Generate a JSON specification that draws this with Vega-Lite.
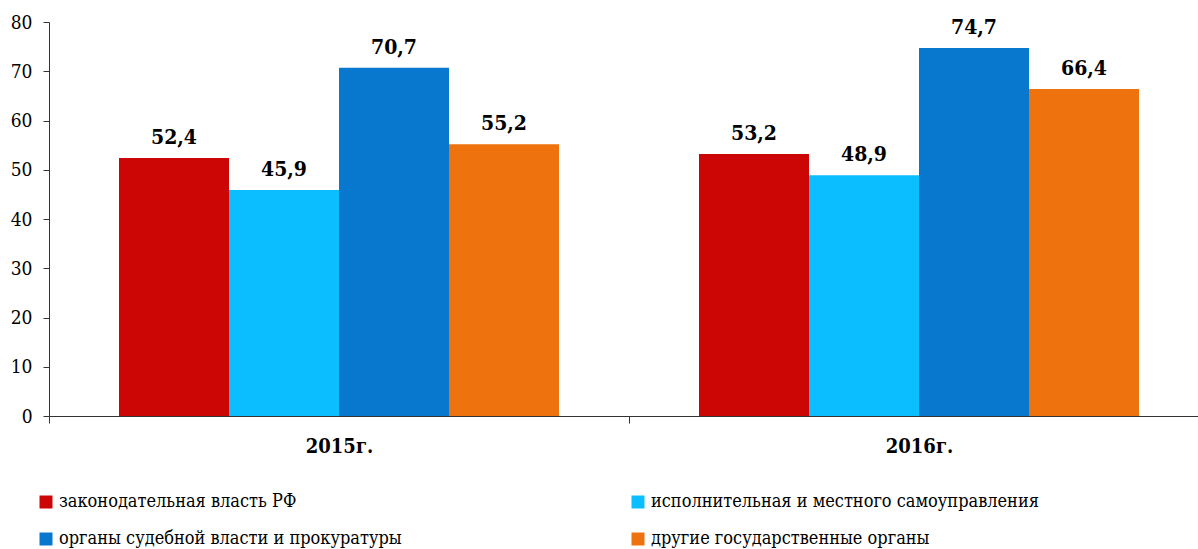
{
  "$schema": "https://vega.github.io/schema/vega-lite/v6.json",
  "autosize": {"type": "none"},
  "width": 1160,
  "height": 394,
  "padding": {"left": 49, "top": 22, "right": -11, "bottom": 133},
  "background": "white",
  "config": {
    "view": {"stroke": null},
    "font": "DejaVu Serif Condensed, DejaVu Serif"
  },
  "data": {
    "values": [
      {"year": "2015г.", "cat": "законодательная власть РФ", "value": 52.4, "label": "52,4"},
      {"year": "2015г.", "cat": "исполнительная и местного самоуправления", "value": 45.9, "label": "45,9"},
      {"year": "2015г.", "cat": "органы судебной власти и прокуратуры", "value": 70.7, "label": "70,7"},
      {"year": "2015г.", "cat": "другие государственные органы", "value": 55.2, "label": "55,2"},
      {"year": "2016г.", "cat": "законодательная власть РФ", "value": 53.2, "label": "53,2"},
      {"year": "2016г.", "cat": "исполнительная и местного самоуправления", "value": 48.9, "label": "48,9"},
      {"year": "2016г.", "cat": "органы судебной власти и прокуратуры", "value": 74.7, "label": "74,7"},
      {"year": "2016г.", "cat": "другие государственные органы", "value": 66.4, "label": "66,4"}
    ]
  },
  "encoding": {
    "x": {
      "field": "year", "type": "nominal", "sort": null, "title": null,
      "scale": {"paddingInner": 0, "paddingOuter": 0},
      "axis": {
        "labelAngle": 0, "labelFont": "DejaVu Serif Condensed, DejaVu Serif", "labelFontSize": 20, "labelFontWeight": "bold",
        "labelColor": "black", "labelPadding": 13, "tickBand": "extent", "tickSize": 7,
        "tickColor": "#333", "domainColor": "#333", "grid": false
      }
    },
    "xOffset": {
      "field": "cat", "type": "nominal",
      "sort": ["законодательная власть РФ", "исполнительная и местного самоуправления", "органы судебной власти и прокуратуры", "другие государственные органы"],
      "scale": {"paddingInner": 0, "paddingOuter": 0.6364}
    },
    "y": {
      "field": "value", "type": "quantitative", "title": null,
      "scale": {"domain": [0, 80]},
      "axis": {
        "values": [0, 10, 20, 30, 40, 50, 60, 70, 80], "grid": false,
        "labelFont": "DejaVu Serif Condensed, DejaVu Serif", "labelFontSize": 19, "labelColor": "black",
        "labelPadding": 11, "tickSize": 6, "tickColor": "#333", "domainColor": "#333"
      }
    }
  },
  "layer": [
    {
      "mark": {"type": "bar"},
      "encoding": {
        "color": {
          "field": "cat", "type": "nominal", "title": null,
          "scale": {
            "domain": ["законодательная власть РФ", "органы судебной власти и прокуратуры", "исполнительная и местного самоуправления", "другие государственные органы"],
            "range": ["#CC0605", "#0878CE", "#0ABEFF", "#EE720E"]
          },
          "legend": {
            "orient": "none", "legendX": -12, "legendY": 471, "columns": 2,
            "columnPadding": 227, "rowPadding": 19, "padding": 0,
            "symbolType": "square", "symbolSize": 169, "symbolStrokeWidth": 0,
            "labelFont": "DejaVu Serif Condensed, DejaVu Serif", "labelFontSize": 18, "labelColor": "black",
            "labelOffset": 4, "labelLimit": 600
          }
        }
      }
    },
    {
      "mark": {"type": "text", "baseline": "alphabetic", "dy": -14, "font": "DejaVu Serif Condensed, DejaVu Serif", "fontSize": 21, "fontWeight": "bold", "color": "black"},
      "encoding": {
        "text": {"field": "label"}
      }
    }
  ]
}
